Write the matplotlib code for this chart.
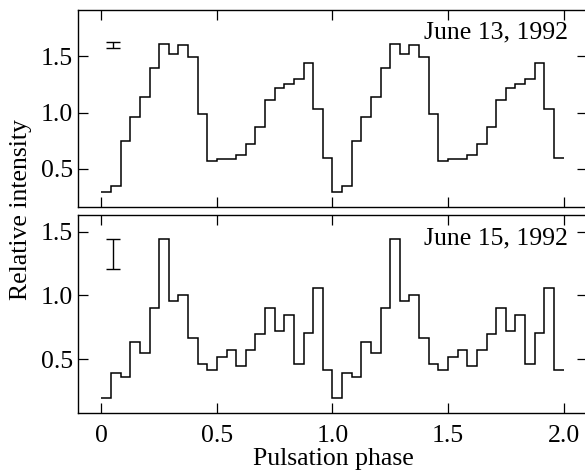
import numpy as np
import matplotlib
matplotlib.use("Agg")
import matplotlib.pyplot as plt

plt.rcParams['font.family'] = ['Liberation Serif', 'DejaVu Serif']
plt.rcParams['font.size'] = 18.5

# phase-folded light curves, 24 bins per period (shown twice)
june13 = [0.30, 0.35, 0.75, 0.96, 1.14, 1.40, 1.61, 1.52, 1.60, 1.49, 0.99, 0.57,
          0.585, 0.585, 0.625, 0.72, 0.875, 1.11, 1.22, 1.25, 1.30, 1.44, 1.035, 0.60]
june15 = [0.20, 0.395, 0.36, 0.635, 0.55, 0.90, 1.44, 0.955, 1.00, 0.665, 0.46, 0.42,
          0.52, 0.57, 0.45, 0.57, 0.695, 0.90, 0.72, 0.85, 0.46, 0.71, 1.06, 0.42]
labels = ["June 13, 1992", "June 15, 1992"]
err_center = [1.60, 1.325]
err_half = [0.03, 0.12]
xticks = [0, 0.5, 1.0, 1.5, 2.0]
xticklabels = ["0", "0.5", "1.0", "1.5", "2.0"]
yticks = [0.5, 1.0, 1.5]

fig = plt.figure(figsize=(5.85, 4.72), dpi=100)
ax1 = fig.add_axes([0.1338, 0.5608, 0.869, 0.418])
ax2 = fig.add_axes([0.1338, 0.125, 0.869, 0.4195])

edges = np.linspace(0, 2, 49)
for ax, vals, lab, ec, eh in zip([ax1, ax2], [june13, june15], labels, err_center, err_half):
    ax.stairs(np.tile(vals, 2), edges, baseline=None, color='black', lw=1.1)
    ax.errorbar([0.05], [ec], yerr=[eh], color='black', capsize=5, lw=1.0, capthick=1.0)
    ax.text(2.02, 0.884, lab, transform=ax.get_xaxis_transform(), ha='right', va='center')
    ax.set_xlim(-0.1, 2.1)
    ax.set_xticks(xticks)
    ax.set_yticks(yticks)
    ax.tick_params(direction='in', top=True, right=True, length=7, width=0.9)
    ax.tick_params(axis='y', pad=4)
    ax.tick_params(axis='x', pad=9)
    for s in ax.spines.values():
        s.set_linewidth(1.0)

ax1.set_ylim(0.16, 1.91)
ax2.set_ylim(0.08, 1.63)
ax1.set_xticklabels([])
ax2.set_xticklabels(xticklabels)

fig.text(0.036, 0.555, "Relative intensity", rotation=90, ha='center', va='center')
fig.text(0.57, 0.004, "Pulsation phase", ha='center', va='bottom')

fig.savefig("out.png", dpi=100)
